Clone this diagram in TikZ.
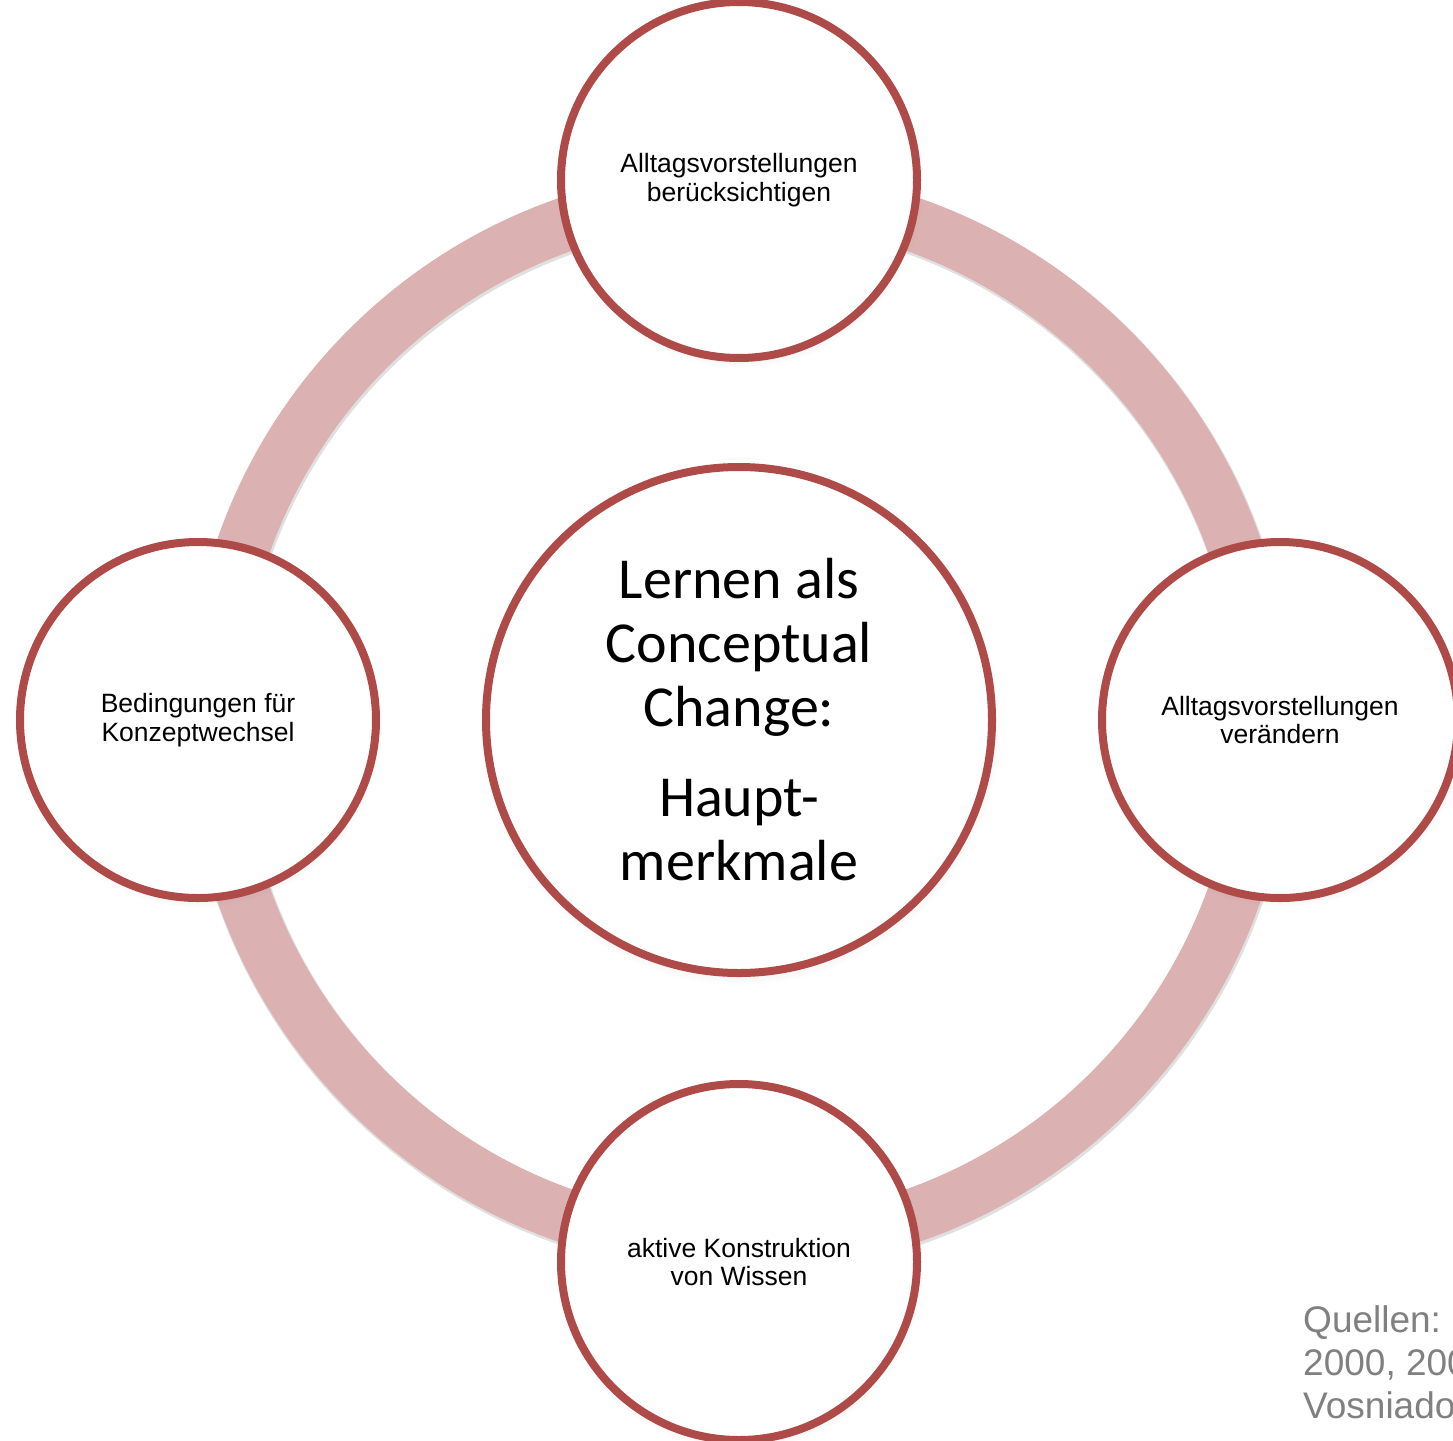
\documentclass[tikz,border=0pt]{standalone}
\usepackage{fontspec}
\setmainfont{Liberation Sans}
\newfontfamily\calfont{Carlito}
\usetikzlibrary{shadows}
\definecolor{edgecol}{RGB}{174,74,72}
\definecolor{ringcol}{RGB}{220,177,177}
\definecolor{notecol}{RGB}{128,128,128}
\tikzset{
  bubble/.style={circle, draw=edgecol, line width=8pt, fill=white, inner sep=0pt,
    align=center, minimum size=356pt,
    font=\fontsize{26.5}{28.5}\selectfont,
    circular drop shadow={shadow xshift=1pt, shadow yshift=-4pt, shadow scale=1.03, opacity=0.28}},
  hub/.style={bubble, minimum size=506pt, font=\calfont\fontsize{58}{64}\selectfont},
  ring/.style={draw=ringcol, line width=54pt},
  note/.style={anchor=base west, inner sep=0pt, text=notecol, font=\fontsize{37}{43}\selectfont}
}
\begin{document}
\begin{tikzpicture}[x=1pt, y=-1pt]
  \useasboundingbox (0,0) rectangle (1453,1440);
  \clip (0,0) rectangle (1453,1440);
  \fill[white] (0,0) rectangle (1453,1440);

  % the cycle ring that links the four outer topics
  \coordinate (mid) at (739,720);
  \draw[black!12, line width=56pt] (740,722) circle[radius=525];
  \draw[ring] (mid) circle[radius=525];

  % central topic and the four surrounding aspects
  \node[hub] (core) at (mid) {Lernen als\\Conceptual\\Change:\\[26pt]Haupt-\\merkmale};
  \node[bubble] (top) at (739,180) {Alltagsvorstellungen\\berücksichtigen};
  \node[bubble] (right) at (1280,720) {Alltagsvorstellungen\\verändern};
  \node[bubble] (bottom) at (739,1262) {aktive Konstruktion\\von Wissen};
  \node[bubble] (left) at (198,720) {Bedingungen für\\Konzeptwechsel};

  % source note in the lower right corner
  \node[note] (q1) at (1303,1332) {Quellen: c};
  \node[note] (q2) at (1303,1375) {2000, 2000};
  \node[note] (q3) at (1303,1418) {Vosniadou};
\end{tikzpicture}
\end{document}
